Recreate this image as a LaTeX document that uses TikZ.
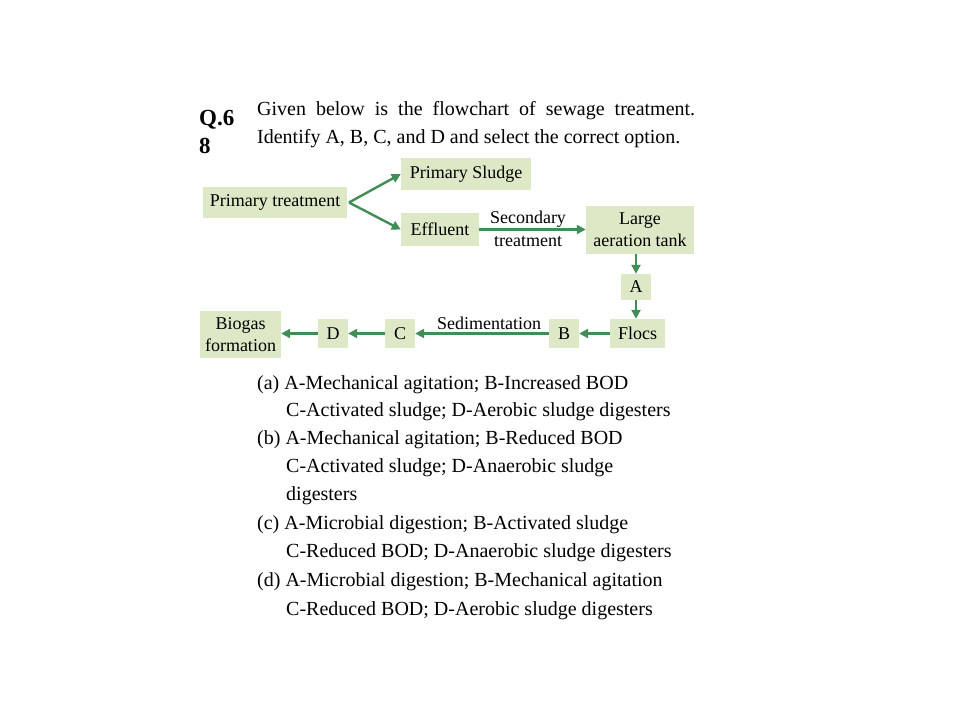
\documentclass[tikz,border=0pt]{standalone}
\usepackage{fontspec}
\setmainfont{Liberation Serif}
\usetikzlibrary{arrows.meta}
\definecolor{boxfill}{HTML}{DDE8C6}
\definecolor{arrgreen}{HTML}{3E8E55}
\begin{document}
\begin{tikzpicture}[x=1pt,y=-1pt,
  box/.style={fill=boxfill,inner sep=0pt,align=center,font=\fontsize{18}{22}\selectfont},
  conn/.style={draw=arrgreen,line width=2.4pt,-{Triangle[length=9pt,width=9pt]}},
  lbl/.style={font=\fontsize{18}{23}\selectfont,inner sep=0pt,align=center},
  txt/.style={font=\fontsize{20}{28}\selectfont,inner sep=0pt,anchor=base west}]
\useasboundingbox (0,0) rectangle (960,720);
% question
\node[txt,font=\fontsize{23}{28}\selectfont\bfseries] (q1) at (199,125) {Q.6};
\node[txt,font=\fontsize{23}{28}\selectfont\bfseries] (q2) at (199,153) {8};
\node[txt,text width=438pt,align=justify] (qt) at (257,115) {Given below is the flowchart of sewage treatment. Identify A, B, C, and D and select the correct option.};
% boxes
\node[box,minimum width=144pt,minimum height=31pt] (pt) at (275,202.5) {Primary treatment};
\node[box,minimum width=130pt,minimum height=32pt] (ps) at (466,174) {Primary Sludge};
\node[box,minimum width=78pt,minimum height=33pt] (ef) at (440,229.5) {Effluent};
\node[box,minimum width=108pt,minimum height=48pt] (la) at (640,230) {Large\\aeration tank};
\node[box,minimum width=30pt,minimum height=26pt] (a) at (636,287) {A};
\node[box,minimum width=55pt,minimum height=29pt] (fl) at (637.5,333.5) {Flocs};
\node[box,minimum width=30pt,minimum height=29pt] (b) at (564,333.5) {B};
\node[box,minimum width=30pt,minimum height=29pt] (c) at (400,333.5) {C};
\node[box,minimum width=30pt,minimum height=29pt] (d) at (333,333.5) {D};
\node[box,minimum width=81pt,minimum height=47pt] (bg) at (240.5,334.5) {Biogas\\formation};
% connectors
\coordinate (br) at (349,202.5);
\draw[conn] (br) -- (ps.west);
\draw[conn] (br) -- (ef.west);
\draw[conn] (ef.east) -- (la.west |- ef.east);
\node[lbl] (st) at (528,228.5) {Secondary\\treatment};
\draw[conn] (la.south -| a.north) -- (a.north);
\draw[conn] (a.south) -- (fl.north -| a.south);
\draw[conn] (fl.west) -- (b.east);
\draw[conn] (b.west) -- (c.east);
\node[lbl,anchor=base] (sed) at (489,329) {Sedimentation};
\draw[conn] (c.west) -- (d.east);
\draw[conn] (d.west) -- (bg.east |- d.west);
% options
\node[txt] (oa) at (257,389) {(a) A-Mechanical agitation; B-Increased BOD};
\node[txt] (oa2) at (286,416) {C-Activated sludge; D-Aerobic sludge digesters};
\node[txt] (ob) at (257,444) {(b) A-Mechanical agitation; B-Reduced BOD};
\node[txt] (ob2) at (286,472) {C-Activated sludge; D-Anaerobic sludge};
\node[txt] (ob3) at (286,500) {digesters};
\node[txt] (oc) at (257,529) {(c) A-Microbial digestion; B-Activated sludge};
\node[txt] (oc2) at (286,557) {C-Reduced BOD; D-Anaerobic sludge digesters};
\node[txt] (od) at (257,586) {(d) A-Microbial digestion; B-Mechanical agitation};
\node[txt] (od2) at (286,615) {C-Reduced BOD; D-Aerobic sludge digesters};
\end{tikzpicture}
\end{document}
